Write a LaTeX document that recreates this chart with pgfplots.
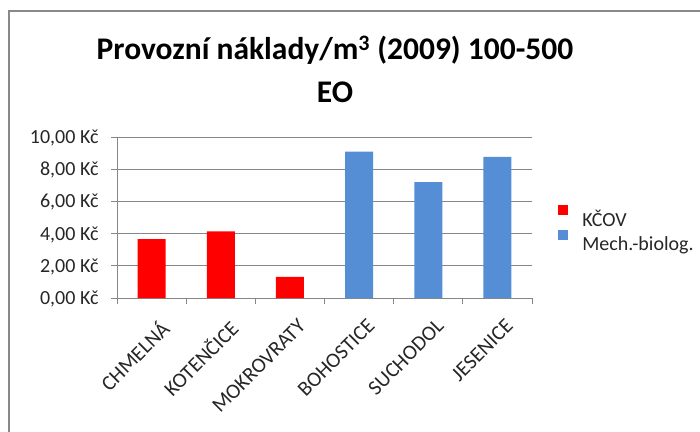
\documentclass[border=0pt]{standalone}
\usepackage{fontspec}
\setmainfont{Carlito}
\usepackage{pgfplots}
\pgfplotsset{compat=1.18}
\definecolor{kcov}{HTML}{FF0000}
\definecolor{mech}{HTML}{558ED5}
\definecolor{gridc}{HTML}{868686}
\definecolor{framec}{HTML}{898989}
\begin{document}
\begin{tikzpicture}[x=1bp,y=1bp]
\clip (0,0) rectangle (700,431);
\draw[framec, line width=2bp] (9,-5) -- (9,420) -- (705,420);
% title, two lines
\node[anchor=base, inner sep=0pt, font=\fontsize{31.5bp}{38bp}\selectfont\bfseries] at (335,372) {Provozní náklady/m\textsuperscript{3} (2009) 100-500};
\node[anchor=base, inner sep=0pt, font=\fontsize{31.5bp}{38bp}\selectfont\bfseries] at (335,329) {EO};
\begin{axis}[
  at={(117bp,133bp)}, anchor=south west,
  scale only axis, width=415bp, height=161bp,
  xmin=-0.5, xmax=5.5, ymin=0, ymax=10,
  axis lines*=left,
  axis line style={gridc, line width=1bp},
  ymajorgrids, grid style={gridc, line width=1bp},
  tick align=outside, major tick length=6bp,
  tick style={gridc, line width=1bp},
  ytick={0,2,...,10},
  yticklabels={{0,00 Kč},{2,00 Kč},{4,00 Kč},{6,00 Kč},{8,00 Kč},{10,00 Kč}},
  yticklabel style={font=\fontsize{20bp}{24bp}\selectfont, xshift=-9bp, yshift=-1bp},
  xtick={-0.5,0.5,...,5.5}, xticklabels={},
  extra x ticks={0,1,2,3,4,5},
  extra x tick labels={CHMELNÁ,KOTENČICE,MOKROVRATY,BOHOSTICE,SUCHODOL,JESENICE},
  extra x tick style={major tick length=0pt, grid=none},
  xticklabel style={rotate=45, anchor=north east, inner sep=0bp,
    font=\fontsize{21bp}{24bp}\selectfont, xshift=-9bp, yshift=-19bp},
  ticklabel style={text=black!85},
  legend style={at={(1.063,0.425)}, anchor=west, draw=none, fill=none,
    font=\fontsize{20bp}{24bp}\selectfont, text=black!85,
    row sep=0bp, inner sep=0pt, cells={anchor=west}},
  legend image code/.code={\fill[#1] (0bp,4bp) rectangle (10bp,14bp); \path (0bp,0bp) (22bp,0bp);},
  every axis plot/.append style={draw=none},
]
\addplot[ybar, bar width=28bp, bar shift=0pt, fill=kcov] coordinates {(0,3.66) (1,4.14) (2,1.32)};
\addplot[ybar, bar width=28bp, bar shift=0pt, fill=mech] coordinates {(3,9.09) (4,7.19) (5,8.76)};
\legend{KČOV,Mech.-biolog.}
\end{axis}
\end{tikzpicture}
\end{document}
